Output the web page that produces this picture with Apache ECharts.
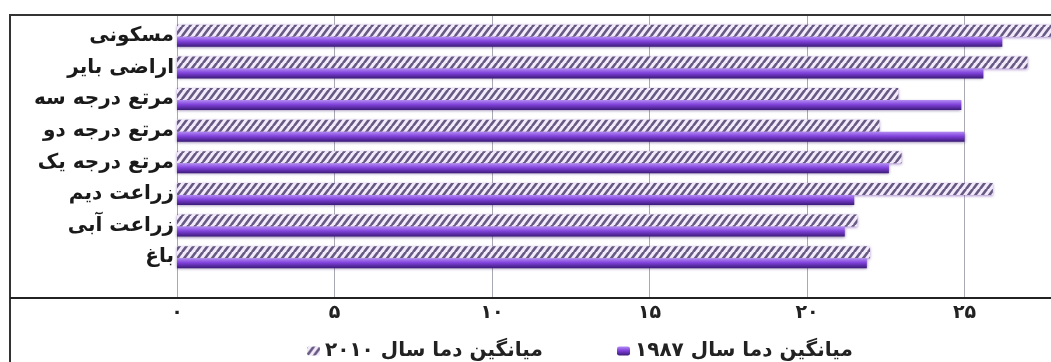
<!DOCTYPE html>
<html>
<head>
<meta charset="utf-8">
<script src="https://cdn.jsdelivr.net/npm/echarts@6/dist/echarts.min.js"></script>
<style>html,body{margin:0;padding:0;background:#fff;}#c{width:1051px;height:362px;}</style>
</head>
<body>
<div id="c"></div>
<script>
const categories = ['مسکونی', 'اراضی بایر', 'مرتع درجه سه', 'مرتع درجه دو', 'مرتع درجه یک', 'زراعت دیم', 'زراعت آبی', 'باغ'];
const values1987 = [26.2, 25.6, 24.9, 25.0, 22.6, 21.5, 21.2, 21.9];
const values2010 = [28.5, 27.0, 22.9, 22.3, 23.0, 25.9, 21.6, 22.0];
const tickLabels = ['۰', '۵', '۱۰', '۱۵', '۲۰', '۲۵'];
const name1987 = 'میانگین دما سال ۱۹۸۷';
const name2010 = 'میانگین دما سال ۲۰۱۰';

function hatch() {
  const w = 7, h = 9;
  const cv = document.createElement('canvas');
  cv.width = w; cv.height = h;
  const g = cv.getContext('2d');
  g.fillStyle = '#f3ebfc';
  g.fillRect(0, 0, w, h);
  g.strokeStyle = '#675a82';
  g.lineWidth = 2.6;
  g.lineCap = 'round';
  for (let k = -1; k <= 1; k++) {
    g.beginPath();
    g.moveTo(k * w + 0.5, h - 0.5);
    g.lineTo(k * w + w - 0.5, 0.5);
    g.stroke();
  }
  return cv;
}

const chart = echarts.init(document.getElementById('c'), null, {renderer: 'canvas'});
const font = '"DejaVu Sans", sans-serif';
const lgText = {fontFamily: font, fontWeight: 'bold', fontSize: 20, color: '#222'};
chart.setOption({
  backgroundColor: '#fff',
  animation: false,
  legend: [
    {data: [name2010], left: 302, top: 336, itemWidth: 13, itemHeight: 9, textStyle: lgText},
    {data: [name1987], left: 612, top: 336, itemWidth: 13, itemHeight: 9, textStyle: lgText}
  ],
  grid: [
    {left: 177, width: 945, top: 20, bottom: 89, outerBoundsMode: 'none', containLabel: false},
    {left: 177, width: 945, top: 15, bottom: 64, outerBoundsMode: 'none', containLabel: false}
  ],
  xAxis: [
    {gridIndex: 0, type: 'value', min: 0, max: 30, interval: 5, show: false},
    {gridIndex: 1, type: 'value', min: 0, max: 30, interval: 5,
     axisLine: {show: false}, axisTick: {show: false},
     splitLine: {show: true, lineStyle: {color: '#a9a9b3', width: 1}},
     axisLabel: {margin: 6, fontFamily: font, fontWeight: 'bold', fontSize: 19, color: '#222',
       formatter: v => tickLabels[Math.round(v / 5)] || ''}}
  ],
  yAxis: [
    {gridIndex: 0, type: 'category', inverse: true, data: categories,
     axisLine: {show: false}, axisTick: {show: false}, splitLine: {show: false},
     axisLabel: {margin: 3, fontFamily: font, fontWeight: 'bold', fontSize: 20, color: '#1a1a1a'}},
    {gridIndex: 1, type: 'value', show: false}
  ],
  graphic: [
    {type: 'rect', z: 10, shape: {x: 10, y: 15, width: 1100, height: 400}, style: {fill: 'none', stroke: '#333', lineWidth: 2}},
    {type: 'line', z: 10, shape: {x1: 10, y1: 298, x2: 1060, y2: 298}, style: {stroke: '#222', lineWidth: 2}}
  ],
  series: [
    {name: name2010, type: 'bar', xAxisIndex: 0, yAxisIndex: 0, data: values2010,
     barWidth: 12, barGap: '0%',
     itemStyle: {color: {image: hatch(), repeat: 'repeat'}, shadowBlur: 3, shadowColor: 'rgba(110,60,170,0.6)', shadowOffsetY: 1}},
    {name: name1987, type: 'bar', xAxisIndex: 0, yAxisIndex: 0, data: values1987,
     barWidth: 10, barGap: '0%',
     itemStyle: {color: new echarts.graphic.LinearGradient(0, 0, 0, 1, [
       {offset: 0, color: '#b38cf2'}, {offset: 0.45, color: '#8142dc'}, {offset: 1, color: '#3b1a78'}]),
       shadowBlur: 3, shadowColor: 'rgba(60,30,110,0.55)', shadowOffsetY: 1}}
  ]
});
</script>
</body>
</html>
